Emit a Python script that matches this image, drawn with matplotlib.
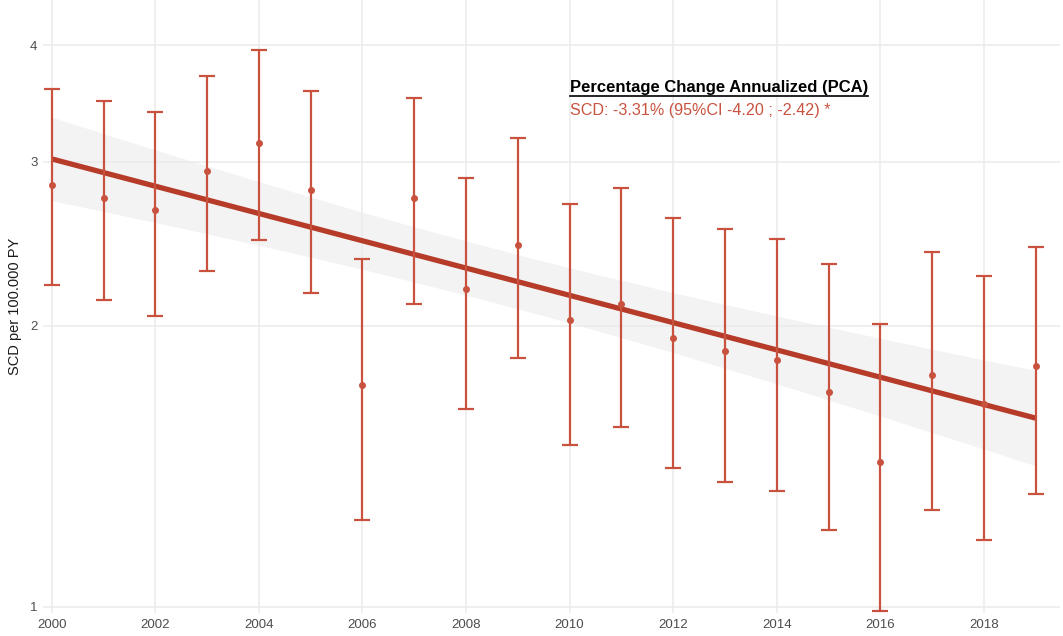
import numpy as np
import matplotlib.pyplot as plt
from matplotlib.ticker import FixedLocator, FixedFormatter, NullLocator

plt.rcParams['font.family'] = ['Liberation Sans', 'DejaVu Sans']

# yearly SCD incidence per 100.000 person-years with 95% CI
years = np.arange(2000, 2020)
rate = [2.83, 2.74, 2.66, 2.93, 3.14, 2.80, 1.73, 2.74, 2.19, 2.44,
        2.03, 2.11, 1.94, 1.88, 1.84, 1.70, 1.43, 1.77, 1.65, 1.81]
upper = [3.59, 3.48, 3.39, 3.71, 3.95, 3.57, 2.36, 3.51, 2.88, 3.18,
         2.70, 2.81, 2.61, 2.54, 2.48, 2.33, 2.01, 2.40, 2.26, 2.43]
lower = [2.21, 2.13, 2.05, 2.29, 2.47, 2.17, 1.24, 2.11, 1.63, 1.85,
         1.49, 1.56, 1.41, 1.36, 1.33, 1.21, 0.99, 1.27, 1.18, 1.32]

# annualized percentage change and its CI
pca = -3.31
pca_lo, pca_hi = -4.20, -2.42
fit_start = 3.02      # fitted rate in 2000
se_center = 0.0148    # log10 se of the fit at its centre
x_center = 2008.5

red = '#C9523F'
dark_red = '#B63B28'

fig = plt.figure(figsize=(10.63, 6.36), dpi=100)
ax = fig.add_axes([43 / 1063, 23 / 636, 1017 / 1063, 613 / 636])

# fitted exponential trend with confidence band
xs = np.linspace(years[0], years[-1], 200)
slope = np.log10(1 + pca / 100)
log_fit = np.log10(fit_start) + slope * (xs - years[0])
slope_se = (np.log10(1 + pca_hi / 100) - np.log10(1 + pca_lo / 100)) / 2 / 1.96
half = 1.96 * np.sqrt(se_center ** 2 + (slope_se * (xs - x_center)) ** 2)
ax.fill_between(xs, 10 ** (log_fit - half), 10 ** (log_fit + half),
                color='#EBEBEB', alpha=0.6, lw=0, zorder=1)
ax.plot(xs, 10 ** log_fit, color=dark_red, lw=3.8, zorder=3,
        solid_capstyle='butt')

rate = np.array(rate)
yerr = [rate - np.array(lower), np.array(upper) - rate]
ax.errorbar(years, rate, yerr=yerr, fmt='o', color=red, ms=4,
            elinewidth=1.6, capsize=5.5, capthick=1.6, zorder=4)

ax.set_yscale('log')
ax.set_xlim(1999.83, 2019.47)
ax.set_ylim(0.985, 4.47)
ax.yaxis.set_major_locator(FixedLocator([1, 2, 3, 4]))
ax.yaxis.set_major_formatter(FixedFormatter(['1', '2', '3', '4']))
ax.yaxis.set_minor_locator(NullLocator())
ax.set_xticks(np.arange(2000, 2019, 2))
ax.xaxis.set_minor_locator(NullLocator())

ax.grid(True, color='#EBEBEB', lw=1.1)
ax.set_axisbelow(True)
for s in ax.spines.values():
    s.set_visible(False)
ax.tick_params(length=0, labelsize=9.5, labelcolor='#4D4D4D', pad=4)
ax.set_ylabel('SCD per 100.000 PY', fontsize=10.5, color='#1A1A1A',
              labelpad=6)

title = ax.text(2010.0, 3.6, 'Percentage Change Annualized (PCA)',
                fontsize=12, fontweight='bold', color='black',
                va='center', ha='left')
ax.text(2010.0, 3.4,
        f'SCD: {pca:.2f}% (95%CI {pca_lo:.2f} ; {pca_hi:.2f}) *',
        fontsize=11.6, color=red, va='center', ha='left')

# underline the heading
fig.canvas.draw()
bb = title.get_window_extent().transformed(fig.transFigure.inverted())
fig.add_artist(plt.Line2D([bb.x0, bb.x1], [bb.y0 - 0.002, bb.y0 - 0.002],
                          transform=fig.transFigure, color='black', lw=1.2))

fig.savefig('out.png', dpi=100)
